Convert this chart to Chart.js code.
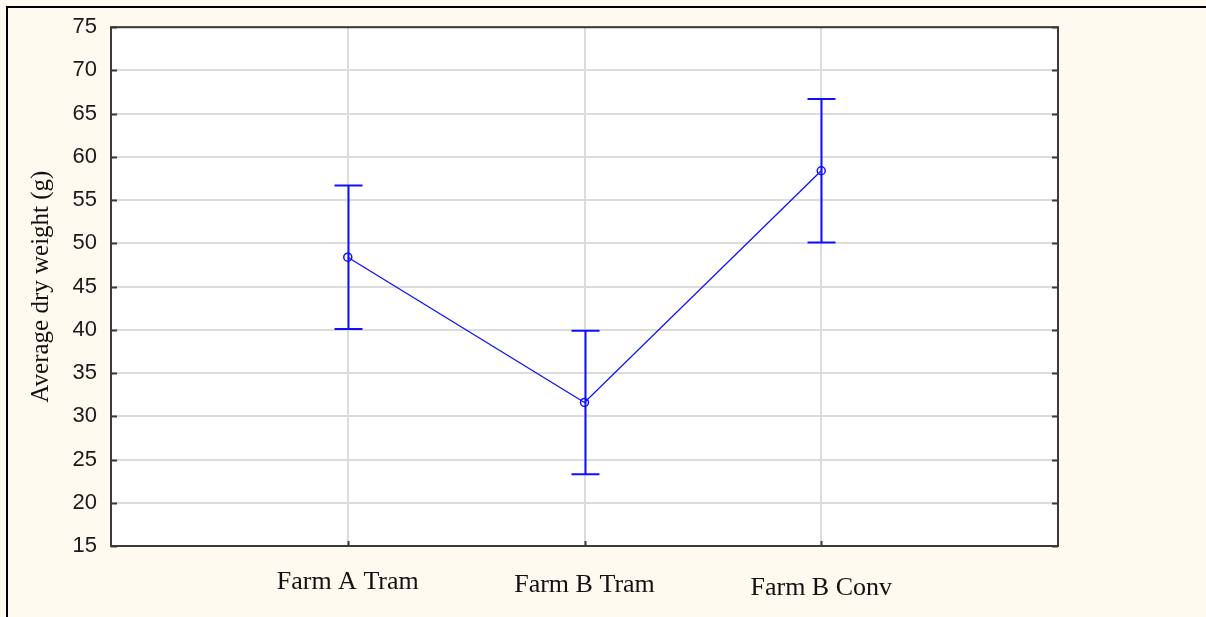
<!DOCTYPE html>
<html>
<head>
<meta charset="utf-8">
<script src="https://cdn.jsdelivr.net/npm/chart.js@4/dist/chart.umd.min.js"></script>
<style>
  html, body { margin: 0; padding: 0; background: #fffaef; }
  #wrap { position: relative; width: 1206px; height: 617px; }
  #frame { position: absolute; left: 6px; top: 6px; right: 0; bottom: 0;
           border-left: 2px solid #000; border-top: 2px solid #000; }
  canvas { position: absolute; left: 0; top: 0; }
</style>
</head>
<body>
<div id="wrap">
  <div id="frame"></div>
  <canvas id="c" width="1206" height="617"></canvas>
</div>
<script>
// Groups compared and their mean dry weight with the error-bar half width
const categories = ['Farm A Tram', 'Farm B Tram', 'Farm B Conv'];
const means = [48.4, 31.6, 58.4];
const errors = [8.3, 8.3, 8.3];
const yTicks = [15, 20, 25, 30, 35, 40, 45, 50, 55, 60, 65, 70, 75];
// small vertical offsets of the group labels below the axis
const labelDrop = [0, 3, 6];

const BLUE = '#1010ff';
const points = means.map((m, i) => ({ x: i + 1, y: m }));

// Error bars with caps
const errorBars = {
  id: 'errorBars',
  afterDatasetsDraw(chart) {
    const { ctx, scales: { x, y } } = chart;
    ctx.save();
    ctx.strokeStyle = BLUE;
    ctx.lineWidth = 2;
    means.forEach((m, i) => {
      const px = Math.round(x.getPixelForValue(i + 1)) + 0.5;
      const top = y.getPixelForValue(m + errors[i]);
      const bot = y.getPixelForValue(m - errors[i]);
      ctx.beginPath();
      ctx.moveTo(px, top); ctx.lineTo(px, bot);
      ctx.moveTo(px - 14, top); ctx.lineTo(px + 14, top);
      ctx.moveTo(px - 14, bot); ctx.lineTo(px + 14, bot);
      ctx.stroke();
    });
    ctx.restore();
  }
};

// Plot frame, inward ticks and group labels
const frame = {
  id: 'frame',
  beforeDraw(chart) {
    const { ctx, chartArea: a } = chart;
    ctx.save();
    ctx.fillStyle = '#ffffff';
    ctx.fillRect(a.left, a.top, a.right - a.left, a.bottom - a.top);
    ctx.restore();
  },
  afterDraw(chart) {
    const { ctx, chartArea: a, scales: { x, y } } = chart;
    ctx.save();
    ctx.strokeStyle = '#3a3a3a';
    ctx.lineWidth = 2;
    ctx.strokeRect(a.left, a.top, a.right - a.left, a.bottom - a.top);
    ctx.beginPath();
    yTicks.forEach(v => {
      const py = Math.round(y.getPixelForValue(v)) + 0.5;
      ctx.moveTo(a.left, py); ctx.lineTo(a.left + 6, py);
      ctx.moveTo(a.right - 6, py); ctx.lineTo(a.right, py);
    });
    categories.forEach((c, i) => {
      const px = Math.round(x.getPixelForValue(i + 1)) + 0.5;
      ctx.moveTo(px, a.bottom); ctx.lineTo(px, a.bottom - 5);
    });
    ctx.stroke();
    ctx.fillStyle = '#111';
    ctx.font = '26px "Liberation Serif", "Times New Roman", serif';
    ctx.textAlign = 'center';
    ctx.textBaseline = 'middle';
    categories.forEach((c, i) => {
      ctx.fillText(c, x.getPixelForValue(i + 1), a.bottom + 36 + labelDrop[i]);
    });
    ctx.restore();
  }
};

new Chart(document.getElementById('c'), {
  type: 'scatter',
  data: {
    datasets: [{
      data: points,
      showLine: true,
      borderColor: BLUE,
      borderWidth: 1.3,
      pointRadius: 4,
      pointBorderWidth: 1.5,
      pointBackgroundColor: 'rgba(255,255,255,0)',
      pointBorderColor: BLUE,
      order: 0
    }]
  },
  options: {
    responsive: false,
    animation: false,
    devicePixelRatio: 1,
    layout: { padding: { left: 0, top: 26, right: 148, bottom: 0 } },
    plugins: { legend: { display: false }, tooltip: { enabled: false } },
    scales: {
      x: {
        type: 'linear',
        min: 0, max: 4,
        afterBuildTicks(s) { s.ticks = categories.map((c, i) => ({ value: i + 1 })); },
        afterFit(s) { s.height = 71; },
        ticks: { display: false },
        grid: { color: '#dcdcdc', lineWidth: 2, drawTicks: false },
        border: { display: false }
      },
      y: {
        min: 15, max: 75,
        afterBuildTicks(s) { s.ticks = yTicks.map(v => ({ value: v })); },
        afterFit(s) { s.width = 111; },
        ticks: {
          padding: 14,
          color: '#1a1a1a',
          font: { family: '"Liberation Sans", Arial, sans-serif', size: 22 }
        },
        grid: { color: '#dcdcdc', lineWidth: 2, drawTicks: false },
        border: { display: false },
        title: {
          display: true,
          text: 'Average dry weight (g)',
          color: '#111',
          font: { family: '"Liberation Serif", "Times New Roman", serif', size: 25 },
          padding: { top: 26, bottom: 0 }
        }
      }
    }
  },
  plugins: [frame, errorBars]
});
</script>
</body>
</html>
